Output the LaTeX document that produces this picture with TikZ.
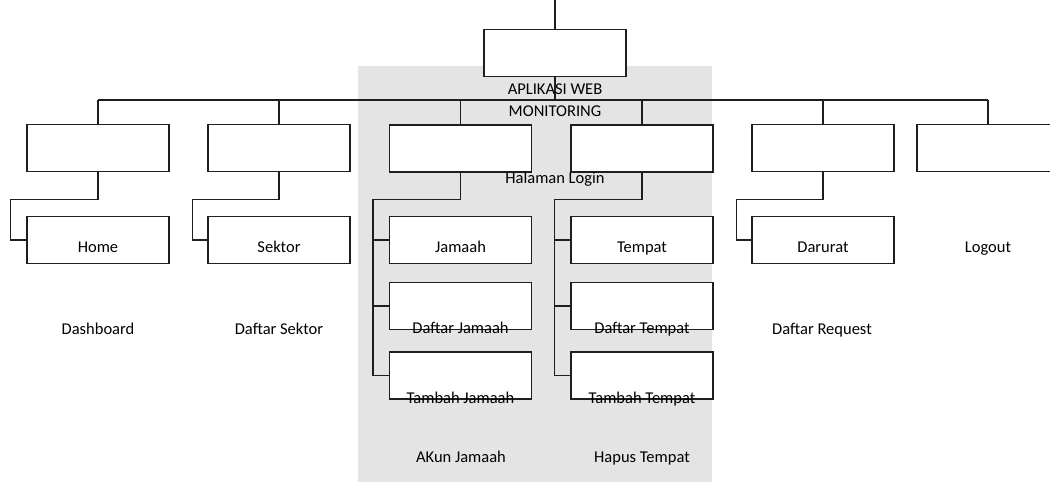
\documentclass[tikz,border=0pt]{standalone}
\usepackage{fontspec}
\setmainfont{Carlito}
\definecolor{bggray}{RGB}{228,228,228}
\definecolor{linec}{RGB}{30,30,30}
\tikzset{
  box/.style={draw=linec, fill=white, line width=1.2pt, minimum width=142pt, minimum height=47pt, inner sep=0pt},
  lbl/.style={anchor=base, inner sep=0pt, font=\fontsize{16.5}{20}\selectfont},
  conn/.style={draw=linec, line width=1.2pt}
}
\begin{document}
\begin{tikzpicture}[x=1pt,y=-1pt]
\useasboundingbox (0,0) rectangle (1050,495);
\clip (0,0) rectangle (1050,495);
% background gray band
\fill[bggray] (358,66) rectangle (712,482);

% top
\coordinate (topend) at (555,0);
\node[box] (app) at (555,53) {};
\coordinate (busL) at (98,100);
\coordinate (busR) at (988,100);

% level 2
\node[box] (dash) at (98,148) {};
\node[box] (dsek) at (279,148) {};
\node[box] (akun) at (460.5,148.5) {};
\node[box] (hapus) at (642,148.5) {};
\node[box] (dreq) at (823,148) {};
\node[box] (logout) at (988,148) {};

% level 3
\node[box] (home) at (98,240) {};
\node[box] (sektor) at (279,240) {};
\node[box] (jamaah) at (460.5,240) {};
\node[box] (djamaah) at (460.5,306) {};
\node[box] (tjamaah) at (460.5,375.5) {};
\node[box] (tempat) at (642,240) {};
\node[box] (dtempat) at (642,306) {};
\node[box] (ttempat) at (642,375.5) {};
\node[box] (darurat) at (823,240) {};

% connectors
\draw[conn] (topend) -- (app.north);
\draw[conn] (app.south) -- (app.south |- busL);
\draw[conn] (busL) -- (busR);
\foreach \n in {dash,dsek,akun,hapus,dreq,logout}{
  \draw[conn] (\n.north |- busL) -- (\n.north);
}
\draw[conn] (dash.south) -- ++(0,27) -| ([xshift=-16pt]home.west) -- (home.west);
\draw[conn] (dsek.south) -- ++(0,27) -| ([xshift=-15pt]sektor.west) -- (sektor.west);
\draw[conn] (dreq.south) -- ++(0,27) -| ([xshift=-15pt]darurat.west) -- (darurat.west);
\draw[conn] (akun.south) -- ++(0,27) -| ([xshift=-16pt]tjamaah.west) -- (tjamaah.west);
\draw[conn] ([xshift=-16pt]jamaah.west) -- (jamaah.west);
\draw[conn] ([xshift=-16pt]djamaah.west) -- (djamaah.west);
\draw[conn] (hapus.south) -- ++(0,27) -| ([xshift=-16pt]ttempat.west) -- (ttempat.west);
\draw[conn] ([xshift=-16pt]tempat.west) -- (tempat.west);
\draw[conn] ([xshift=-16pt]dtempat.west) -- (dtempat.west);

% labels
\node[lbl] (t1) at (555,95) {APLIKASI WEB};
\node[lbl] (t2) at (555,116) {MONITORING};
\node[lbl] (t3) at (555,183) {Halaman Login};
\node[lbl] (t4) at (98,252) {Home};
\node[lbl] (t5) at (279,252) {Sektor};
\node[lbl] (t6) at (460.5,252) {Jamaah};
\node[lbl] (t7) at (642,252) {Tempat};
\node[lbl] (t8) at (823,252) {Darurat};
\node[lbl] (t9) at (988,252) {Logout};
\node[lbl] (t10) at (98,334) {Dashboard};
\node[lbl] (t11) at (279,334) {Daftar Sektor};
\node[lbl] (t12) at (460.5,333) {Daftar Jamaah};
\node[lbl] (t13) at (642,333) {Daftar Tempat};
\node[lbl] (t14) at (822,334) {Daftar Request};
\node[lbl] (t15) at (460.5,403) {Tambah Jamaah};
\node[lbl] (t16) at (642,403) {Tambah Tempat};
\node[lbl] (t17) at (461,462) {AKun Jamaah};
\node[lbl] (t18) at (642,462) {Hapus Tempat};
\end{tikzpicture}
\end{document}
